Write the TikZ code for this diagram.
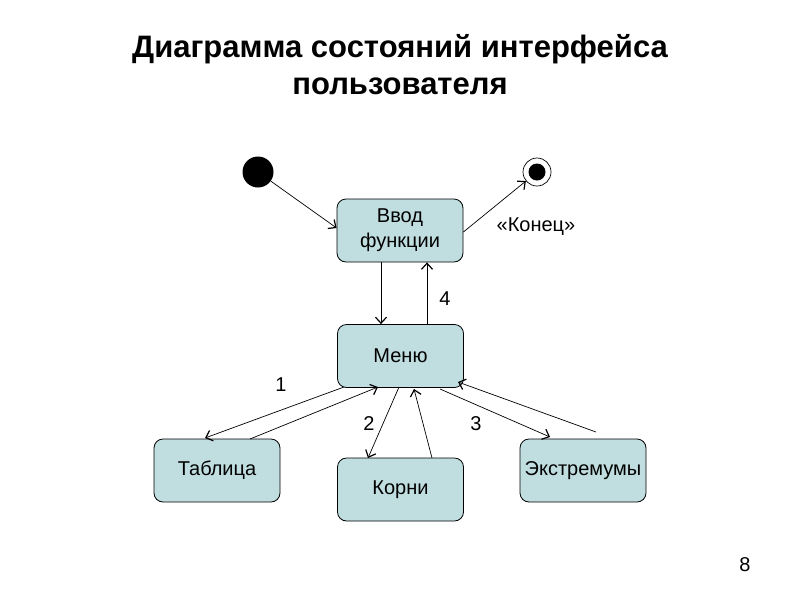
\documentclass[tikz,border=0pt]{standalone}
\usepackage{fontspec}
\setmainfont{Liberation Sans}
\usetikzlibrary{arrows.meta}
\definecolor{boxfill}{RGB}{192,222,224}
\tikzset{
  state/.style={draw=black, line width=0.8pt, fill=boxfill, rounded corners=9pt,
    minimum width=126pt, minimum height=63pt, inner sep=0pt, align=center,
    font=\fontsize{20}{25}\selectfont},
  conn/.style={draw=black, line width=0.7pt, -{Straight Barb[length=6pt,width=11pt,line width=1.2pt]}},
  lbl/.style={font=\fontsize{20}{23}\selectfont, inner sep=0pt},
}
\begin{document}
\begin{tikzpicture}[x=1pt,y=-1pt]
\useasboundingbox (0,0) rectangle (800,600);
\node[font=\fontsize{31}{37}\selectfont\bfseries, align=center] (title) at (400,65)
  {Диаграмма состояний интерфейса\\пользователя};
\node[circle, fill=black, minimum size=31pt, inner sep=0pt] (init) at (258,172) {};
\node[circle, draw=black, line width=0.7pt, minimum size=28pt, inner sep=0pt] (fin) at (537,172) {};
\node[circle, fill=black, minimum size=17pt, inner sep=0pt] (finin) at (537,172) {};
\node[state] (vvod) at (400,230.5) {Ввод\\функции};
\node[state] (menu) at (400.5,356) {Меню};
\node[state] (tabl) at (217,470.5) {Таблица};
\node[state] (korn) at (400.5,489.5) {Корни};
\node[state] (extr) at (583,470.5) {Экстремумы};
\node[lbl] (konec) at (536,227) {«Конец»};
\node[lbl] (l4) at (445,299) {4};
\node[lbl] (l1) at (281,385) {1};
\node[lbl] (l2) at (369,424) {2};
\node[lbl] (l3) at (476,424) {3};
\node[lbl] (page) at (745,565) {8};
% connectors
\draw[conn] (init) -- (vvod.west |- 0,228);
\draw[conn] (vvod.east |- 0,232) -- (fin);
\draw[conn] (vvod.south -| 381,0) -- (menu.north -| 381,0);
\draw[conn] (menu.north -| 427,0) -- (vvod.south -| 427,0);
\coordinate (mt1) at (344,387);
\coordinate (tt1) at (205,438);
\draw[conn] (mt1) -- (tt1);
\coordinate (tt2) at (250,439);
\coordinate (mt2) at (378,387);
\draw[conn] (tt2) -- (mt2);
\coordinate (mk1) at (399,387);
\coordinate (kt1) at (368,458);
\draw[conn] (mk1) -- (kt1);
\coordinate (kt2) at (432,458);
\coordinate (mk2) at (414,389);
\draw[conn] (kt2) -- (mk2);
\coordinate (me1) at (440,389);
\coordinate (et1) at (550,437);
\draw[conn] (me1) -- (et1);
\coordinate (et2) at (596,432);
\coordinate (me2) at (458,382);
\draw[conn] (et2) -- (me2);
\end{tikzpicture}
\end{document}
